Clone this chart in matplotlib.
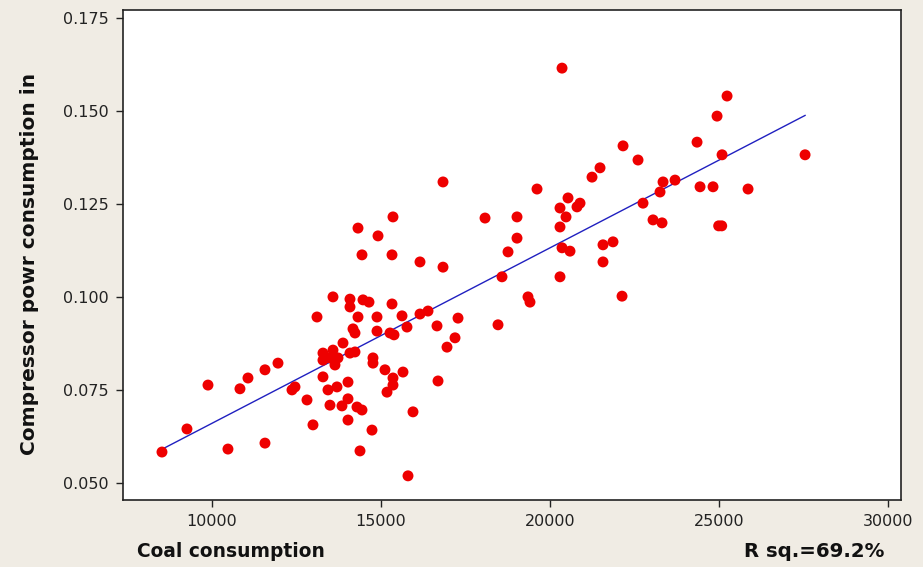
import numpy as np
import matplotlib
matplotlib.use("Agg")
import matplotlib.pyplot as plt

# coal consumption vs compressor power consumption
coal = [
    8521, 9260, 9882, 10473, 10828, 11065, 11568, 11953, 11568, 12367,
    12456, 12811, 12988, 13107, 13580, 13284, 13580, 13876, 14083, 14231,
    13284, 13639, 13491, 13728, 13284, 13432, 13698, 14024, 13491, 13846,
    14024, 14290, 14438, 14024, 14734, 14379, 15799, 14763, 14763, 15118,
    15355, 15355, 15178, 15651, 15947, 16687, 16953, 14320, 14912, 15355,
    14438, 15326, 16154, 16835, 14083, 14083, 14468, 14645, 15326, 14320,
    14882, 15622, 16154, 16391, 15769, 16657, 14172, 14231, 14882, 15267,
    15385, 16835, 19616, 18078, 19024, 19024, 18758, 18580, 20296, 19349,
    19408, 18462, 17279, 17190, 22131, 21568, 21568, 21864, 20356, 20592,
    20296, 20296, 20533, 20474, 20799, 20888, 21243, 21480, 22161, 22604,
    22752, 23048, 23314, 23255, 23344, 23699, 24439, 24823, 25859, 24990,
    25080, 24350, 24942, 25238, 25090, 27546, 20356,
]
power = [
    0.0584, 0.0646, 0.0764, 0.0592, 0.0754, 0.0783, 0.0805, 0.0823, 0.0608, 0.0751,
    0.0759, 0.0724, 0.0657, 0.0947, 0.1001, 0.0850, 0.0858, 0.0877, 0.0850, 0.0853,
    0.0831, 0.0818, 0.0837, 0.0837, 0.0786, 0.0751, 0.0759, 0.0772, 0.0710, 0.0708,
    0.0727, 0.0705, 0.0697, 0.0670, 0.0643, 0.0587, 0.0520, 0.0837, 0.0823, 0.0805,
    0.0783, 0.0764, 0.0745, 0.0799, 0.0692, 0.0775, 0.0866, 0.1186, 0.1165, 0.1216,
    0.1114, 0.1114, 0.1095, 0.1081, 0.0995, 0.0974, 0.0993, 0.0987, 0.0982, 0.0947,
    0.0947, 0.0950, 0.0955, 0.0963, 0.0920, 0.0923, 0.0915, 0.0904, 0.0909, 0.0904,
    0.0899, 0.1310, 0.1291, 0.1213, 0.1216, 0.1159, 0.1122, 0.1055, 0.1055, 0.1001,
    0.0987, 0.0926, 0.0944, 0.0891, 0.1003, 0.1095, 0.1141, 0.1149, 0.1133, 0.1124,
    0.1189, 0.1240, 0.1267, 0.1216, 0.1243, 0.1253, 0.1323, 0.1348, 0.1407, 0.1369,
    0.1253, 0.1208, 0.1200, 0.1283, 0.1310, 0.1315, 0.1297, 0.1297, 0.1291, 0.1192,
    0.1192, 0.1417, 0.1487, 0.1541, 0.1383, 0.1383, 0.1616,
]
x_ticks = [10000, 15000, 20000, 25000, 30000]
y_ticks = [0.050, 0.075, 0.100, 0.125, 0.150, 0.175]
r_sq_text = "R sq.=69.2%"

coal = np.array(coal)
power = np.array(power)

fig = plt.figure(figsize=(9.23, 5.67), dpi=100, facecolor="#f0ece4")
ax = fig.add_axes([0.1329, 0.1182, 0.8433, 0.8642])
ax.set_facecolor("white")

# fitted line over the data range
slope, intercept = np.polyfit(coal, power, 1)
xl = np.array([coal.min(), coal.max()])
ax.plot(xl, intercept + slope * xl, color="#2020c0", lw=1.0, zorder=2)

ax.scatter(coal, power, s=62, color="#ee0000", edgecolors="none", zorder=3)

ax.set_xlim(7358, 30385)
ax.set_ylim(0.04551, 0.17723)
ax.set_xticks(x_ticks)
ax.set_yticks(y_ticks)
ax.set_yticklabels([f"{v:.3f}" for v in y_ticks])
ax.tick_params(direction="out", length=5, width=1, labelsize=11.5,
               colors="#222222", pad=5)
for s in ax.spines.values():
    s.set_color("#222222")
    s.set_linewidth(1.2)

fig.text(0.0325, 0.535, "Compressor powr consumption in", rotation=90,
         ha="center", va="center", fontsize=14.5, fontweight="bold",
         color="#111111")
fig.text(0.1484, 0.0265, "Coal consumption", ha="left", va="center",
         fontsize=13.4, fontweight="bold", color="#111111")
fig.text(0.806, 0.0265, r_sq_text, ha="left", va="center",
         fontsize=14.2, fontweight="bold", color="#111111")

fig.savefig("out.png", dpi=100, facecolor=fig.get_facecolor())
